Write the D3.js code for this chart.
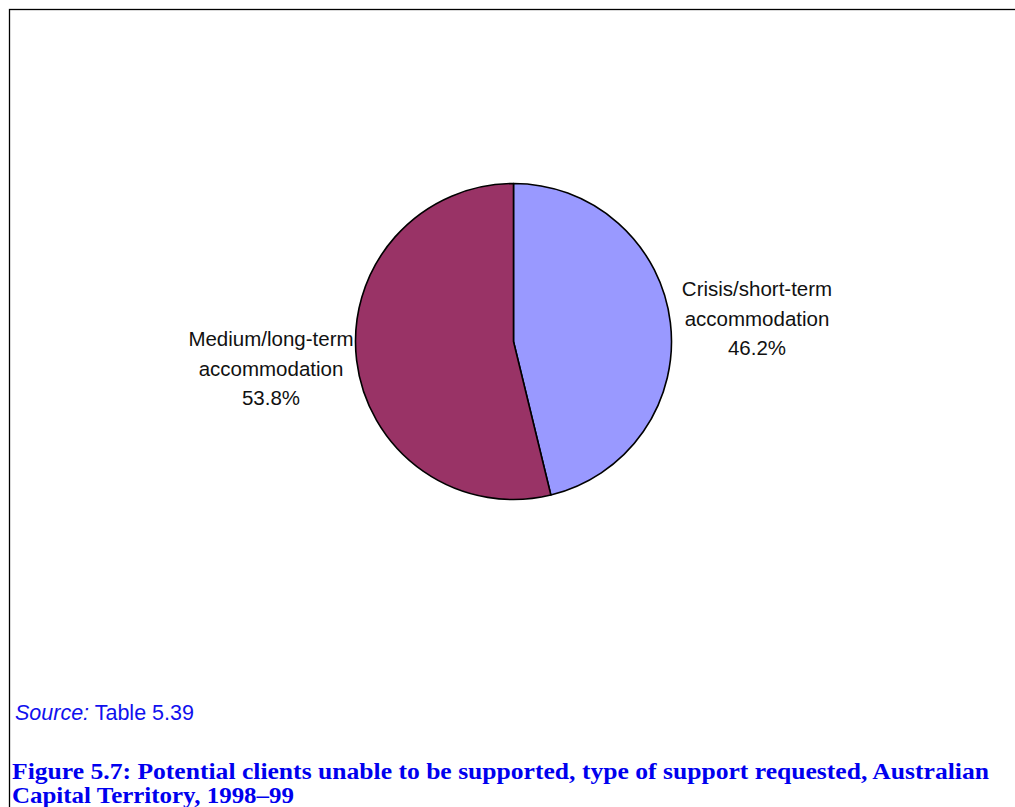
<!DOCTYPE html>
<html><head><meta charset="utf-8">
<script src="https://cdn.jsdelivr.net/npm/d3@7"></script>
<style>body{margin:0;background:#fff;}svg{display:block;}</style>
</head><body>
<svg id="c" width="1015" height="807"></svg>
<script>
const categories = ["Crisis/short-term accommodation", "Medium/long-term accommodation"];
const labelLines = [["Crisis/short-term", "accommodation"], ["Medium/long-term", "accommodation"]];
const values = [46.2, 53.8];
const colors = ["#9999FF", "#993366"];
const sourceText = "Table 5.39";
const titleLines = ["Figure 5.7: Potential clients unable to be supported, type of support requested, Australian", "Capital Territory, 1998\u201399"];

const svg = d3.select("#c");
svg.append("rect").attr("x", 9.5).attr("y", 9.5).attr("width", 1020).attr("height", 820)
  .attr("fill", "none").attr("stroke", "#000").attr("stroke-width", 1.3);

const cx = 513.5, cy = 341.5, r = 158;
const pie = d3.pie().sort(null).value(d => d)(values);
const arc = d3.arc().innerRadius(0).outerRadius(r);
const g = svg.append("g").attr("transform", `translate(${cx},${cy})`);
g.selectAll("path").data(pie).join("path")
  .attr("d", arc).attr("fill", (d, i) => colors[i])
  .attr("stroke", "#000").attr("stroke-width", 1.6).attr("stroke-linejoin", "round");

const labelPos = [[757, 296], [271, 346]];
const font = "'Liberation Sans', Arial, sans-serif";
pie.forEach((d, i) => {
  const lines = labelLines[i].concat([values[i].toFixed(1) + "%"]);
  const t = svg.append("text").attr("text-anchor", "middle")
    .attr("font-family", font).attr("font-size", 20.5).attr("fill", "#111");
  lines.forEach((l, j) => {
    t.append("tspan").attr("x", labelPos[i][0]).attr("y", labelPos[i][1] + j * 29.5).text(l);
  });
});

const s = svg.append("text").attr("x", 15).attr("y", 720)
  .attr("font-family", font).attr("font-size", 21.5).attr("fill", "#1010EE");
s.append("tspan").attr("font-style", "italic").text("Source:");
s.append("tspan").text(" " + sourceText);

const tf = "'Liberation Serif', 'DejaVu Serif', serif";
svg.append("text").attr("x", 12).attr("y", 779)
  .attr("font-family", tf).attr("font-weight", "bold").attr("font-size", 22.5).attr("fill", "#0000EE")
  .attr("textLength", 977).attr("lengthAdjust", "spacingAndGlyphs").text(titleLines[0]);
svg.append("text").attr("x", 12).attr("y", 803)
  .attr("font-family", tf).attr("font-weight", "bold").attr("font-size", 22.5).attr("fill", "#0000EE")
  .attr("textLength", 282).attr("lengthAdjust", "spacingAndGlyphs").text(titleLines[1]);
</script>
</body></html>
